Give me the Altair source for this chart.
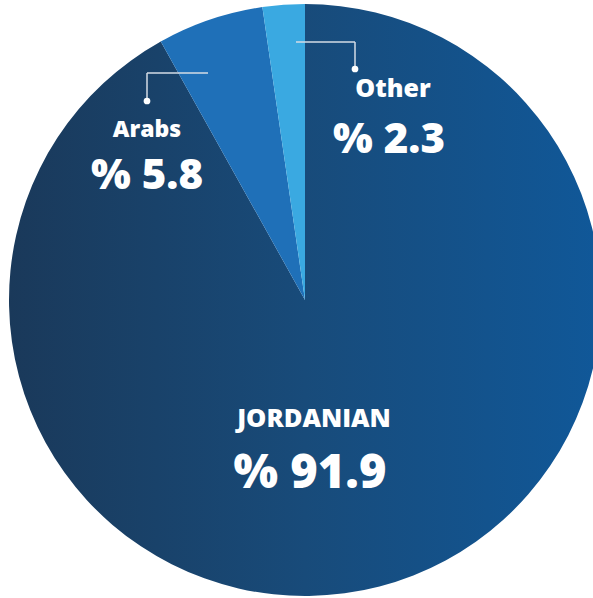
import altair as alt
import pandas as pd

categories = ["JORDANIAN", "Arabs", "Other"]
values = [91.9, 5.8, 2.3]
order = [1, 2, 3]
colors = ["#184c7a", "#1f70b8", "#3aa9e1"]

df = pd.DataFrame({"cat": categories, "value": values, "ord": order})
df["pct"] = ["% " + f"{v:.1f}" for v in values]

grad = alt.LinearGradient(
    gradient="linear",
    stops=[alt.GradientStop(offset=0, color="#1a395a"),
           alt.GradientStop(offset=0.5, color="#184b7a"),
           alt.GradientStop(offset=1, color="#105899")],
    x1=0, x2=1, y1=0, y2=0,
)

CX, CY, R = 305, 300, 296

pie = alt.Chart(df).mark_arc(radius=R).encode(
    theta=alt.Theta("value:Q", stack=True),
    order=alt.Order("ord:Q"),
    x=alt.value(CX),
    y=alt.value(CY),
    color=alt.condition(
        "datum.cat == 'JORDANIAN'",
        alt.value(grad),
        alt.Color("cat:N", scale=alt.Scale(domain=categories, range=colors), legend=None),
    ),
)

FONT = "Open Sans"

def label(i, x, y, size, field):
    return alt.Chart(df.iloc[[i]]).mark_text(
        font=FONT, fontWeight=800, fontSize=size, color="white",
        align="center", baseline="alphabetic",
    ).encode(text=f"{field}:N", x=alt.value(x), y=alt.value(y))

texts = [
    label(0, 314, 427, 25.5, "cat"),
    label(0, 310, 488, 47, "pct"),
    label(1, 147, 137, 23, "cat"),
    label(1, 147, 189, 42, "pct"),
    label(2, 393, 97, 25, "cat"),
    label(2, 389, 153, 42, "pct"),
]

LC = "#d5dde6"
lines_df = pd.DataFrame({"dummy": [0]})
def seg(x1, y1, x2, y2):
    return alt.Chart(lines_df).mark_rule(color=LC, strokeWidth=1.5).encode(
        x=alt.value(x1), y=alt.value(y1), x2=alt.value(x2), y2=alt.value(y2))

def dot(x, y):
    return alt.Chart(lines_df).mark_circle(color="white", opacity=1, size=45).encode(
        x=alt.value(x), y=alt.value(y))

leaders = [
    seg(208, 73, 147, 73), seg(147, 73, 147, 101), dot(147, 101),
    seg(296, 42, 355, 42), seg(355, 42, 355, 69), dot(355, 69),
]

chart = alt.layer(pie, *leaders, *texts).properties(
    width=593, height=598, padding=0, autosize=alt.AutoSizeParams(type="none"),
    background="white",
).configure_view(stroke=None)

chart.save("out.html", embed_options={"renderer": "svg", "actions": False})
